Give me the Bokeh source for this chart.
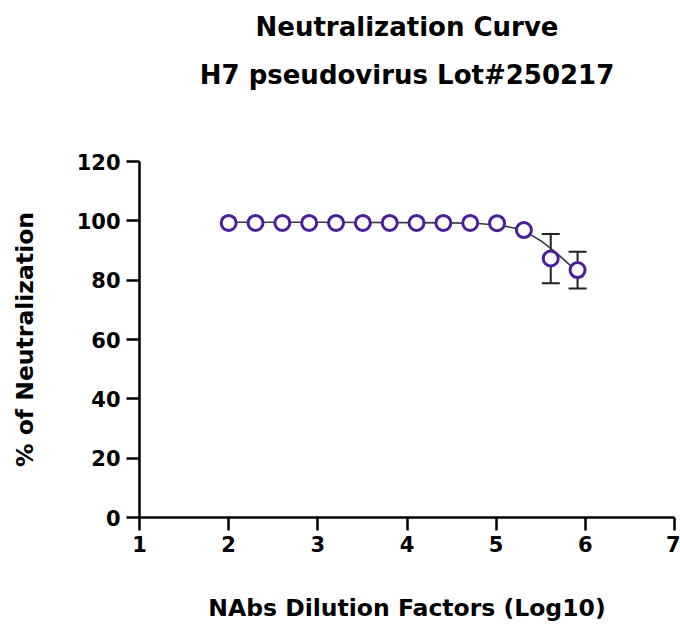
from bokeh.plotting import figure
from bokeh.models import ColumnDataSource, Whisker, TeeHead, Title, Range1d, FixedTicker
from bokeh.embed import file_html
from bokeh.resources import INLINE

# data
log_dilution = [2.0, 2.301, 2.602, 2.903, 3.204, 3.505, 3.806, 4.107, 4.408, 4.709, 5.010, 5.311, 5.612, 5.913]
neutralization = [99.3, 99.3, 99.3, 99.3, 99.3, 99.3, 99.3, 99.3, 99.3, 99.3, 99.2, 96.9, 87.3, 83.4]
sd = [0, 0, 0, 0, 0, 0, 0, 0, 0, 0, 0, 0, 8.3, 6.2]
curve_x = [2.0, 3.0, 4.0, 4.5, 4.8, 5.0, 5.1, 5.2, 5.3, 5.4, 5.5, 5.6, 5.7, 5.8, 5.85, 5.93]
curve_y = [99.5, 99.5, 99.4, 99.3, 99.1, 98.6, 98.2, 97.6, 96.6, 95.1, 93.3, 91.0, 88.5, 85.8, 84.5, 82.4]
x_ticks = [1, 2, 3, 4, 5, 6, 7]
y_ticks = [0, 20, 40, 60, 80, 100, 120]
title_lines = ["Neutralization Curve", "H7 pseudovirus Lot#250217"]

FONT = "DejaVu Sans"
PURPLE = "#4b1f9b"

p = figure(width=680, height=624, output_backend="svg", toolbar_location=None,
           x_range=Range1d(1, 7), y_range=Range1d(0, 120),
           min_border_left=139, min_border_right=6, min_border_top=161, min_border_bottom=105)
p.outline_line_color = None
p.xgrid.visible = False
p.ygrid.visible = False
p.background_fill_color = "white"

for ax, ticks in ((p.xaxis[0], x_ticks), (p.yaxis[0], y_ticks)):
    ax.ticker = FixedTicker(ticks=ticks)
    ax.axis_line_width = 2.5
    ax.axis_line_color = "black"
    ax.major_tick_line_width = 2.5
    ax.major_tick_line_color = "black"
    ax.major_tick_out = 13
    ax.major_tick_in = 0
    ax.minor_tick_line_color = None
    ax.major_label_text_font = FONT
    ax.major_label_text_font_style = "bold"
    ax.major_label_text_font_size = "21px"
    ax.major_label_text_color = "black"
    ax.axis_label_text_font = FONT
    ax.axis_label_text_font_style = "bold"
    ax.axis_label_text_font_size = "23.5px"
    ax.axis_label_text_color = "black"

p.xaxis.axis_label = "NAbs Dilution Factors (Log10)"
p.yaxis.axis_label = "% of Neutralization"
p.xaxis.major_label_standoff = 5
p.yaxis.major_label_standoff = 6
p.xaxis.axis_label_standoff = 39
p.yaxis.axis_label_standoff = 35

src = ColumnDataSource(data=dict(x=log_dilution, y=neutralization))
curve_src = ColumnDataSource(data=dict(x=curve_x, y=curve_y))

p.line("x", "y", source=curve_src, line_color="#3a3a3a", line_width=1.6)

err_src = ColumnDataSource(data=dict(
    x=[x for x, s in zip(log_dilution, sd) if s > 0],
    upper=[v + s for v, s in zip(neutralization, sd) if s > 0],
    lower=[v - s for v, s in zip(neutralization, sd) if s > 0],
))
w = Whisker(base="x", upper="upper", lower="lower", source=err_src, dimension="height",
            line_color="#222222", line_width=2, level="underlay",
            upper_head=TeeHead(size=18, line_color="#222222", line_width=2),
            lower_head=TeeHead(size=18, line_color="#222222", line_width=2))
p.add_layout(w)

p.scatter("x", "y", source=src, size=15, marker="circle", fill_color="white",
          line_color=PURPLE, line_width=3)

# title lines: the main title is outermost; the first added title sits closest to the plot
p.title.text = title_lines[0]
p.title.align = "center"
p.title.text_font = FONT
p.title.text_font_style = "bold"
p.title.text_font_size = "26px"
p.title.text_color = "black"
p.title.standoff = 16
spacer = Title(text=" ", align="center", text_font=FONT, text_font_size="1px", standoff=61)
p.add_layout(spacer, "above")
t2 = Title(text=title_lines[1], align="center", text_font=FONT,
           text_font_style="bold", text_font_size="26px", text_color="black", standoff=16)
p.add_layout(t2, "above")

open("out.html", "w").write(file_html(p, INLINE))
